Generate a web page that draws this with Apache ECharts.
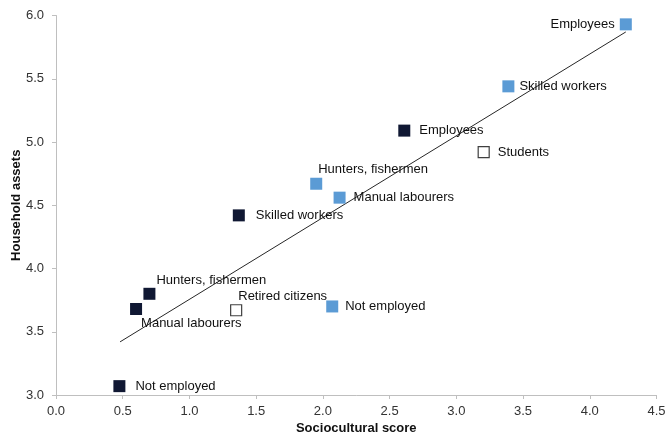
<!DOCTYPE html>
<html>
<head>
<meta charset="utf-8">
<script src="https://cdn.jsdelivr.net/npm/echarts@6/dist/echarts.min.js"></script>
<style>
  html, body { margin: 0; padding: 0; background: #fff; }
  #chart { width: 666px; height: 436px; }
</style>
</head>
<body>
<div id="chart"></div>
<script>
// dark group
var darkNames = ["Not employed", "Manual labourers", "Hunters, fishermen", "Skilled workers", "Employees"];
var darkX = [0.475, 0.60, 0.70, 1.37, 2.61];
var darkY = [3.07, 3.68, 3.80, 4.42, 5.09];

// light blue group
var blueNames = ["Hunters, fishermen", "Manual labourers", "Not employed", "Skilled workers", "Employees"];
var blueX = [1.95, 2.125, 2.07, 3.39, 4.27];
var blueY = [4.67, 4.56, 3.70, 5.44, 5.93];

// open markers
var openNames = ["Retired citizens", "Students"];
var openX = [1.35, 3.205];
var openY = [3.67, 4.92];

// fitted line ends
var trendX = [0.48, 4.27];
var trendY = [3.42, 5.87];

// label placement (right of marker, [dx, dy]) by name, per group
var darkLabelOffset = {
  "Not employed": [10, 0],
  "Manual labourers": [-1, 14],
  "Hunters, fishermen": [1, -13],
  "Skilled workers": [11, 0],
  "Employees": [9, 0]
};
var blueLabelOffset = {
  "Hunters, fishermen": [-4, -14],
  "Manual labourers": [8, 0],
  "Not employed": [7, 0],
  "Skilled workers": [5, 0],
  "Employees": null
};
var openLabelOffset = {
  "Retired citizens": [-4, -14],
  "Students": [8, 0]
};

var FONT = "Liberation Sans, Arial, sans-serif";

function buildPoints(names, xs, ys, offsets) {
  return names.map(function (n, i) {
    var off = offsets[n];
    var label = off
      ? { position: "right", distance: 0, offset: off }
      : { position: "left", distance: 5, offset: [0, 0] };
    return { name: n, value: [xs[i], ys[i]], label: label };
  });
}

var labelStyle = {
  show: true,
  formatter: "{b}",
  color: "#111111",
  fontSize: 13,
  fontFamily: FONT
};

var chart = echarts.init(document.getElementById("chart"));
var option = {
  animation: false,
  grid: { left: 56, right: 9.5, top: 15.5, bottom: 41, outerBoundsMode: "none", containLabel: false },
  xAxis: {
    type: "value",
    min: 0,
    max: 4.5,
    interval: 0.5,
    name: "Sociocultural score",
    nameLocation: "middle",
    nameGap: 27,
    nameMoveOverlap: false,
    nameTextStyle: { fontWeight: "bold", fontSize: 13, color: "#111111", fontFamily: FONT },
    axisLine: { show: true, lineStyle: { color: "#bfbfbf" } },
    axisTick: { show: true, length: 4, lineStyle: { color: "#bfbfbf" } },
    axisLabel: {
      margin: 10,
      color: "#333333",
      fontSize: 13,
      fontFamily: FONT,
      formatter: function (v) { return v.toFixed(1); }
    },
    splitLine: { show: false }
  },
  yAxis: {
    type: "value",
    min: 3,
    max: 6,
    interval: 0.5,
    name: "Household assets",
    nameLocation: "middle",
    nameGap: 33,
    nameMoveOverlap: false,
    nameRotate: 90,
    nameTextStyle: { fontWeight: "bold", fontSize: 13, color: "#111111", fontFamily: FONT },
    axisLine: { show: true, lineStyle: { color: "#bfbfbf" } },
    axisTick: { show: true, length: 4, lineStyle: { color: "#bfbfbf" } },
    axisLabel: {
      margin: 12,
      color: "#333333",
      fontSize: 13,
      fontFamily: FONT,
      formatter: function (v) { return v.toFixed(1); }
    },
    splitLine: { show: false }
  },
  series: [
    {
      type: "line",
      data: trendX.map(function (x, i) { return [x, trendY[i]]; }),
      symbol: "none",
      lineStyle: { color: "#262626", width: 1 },
      z: 1
    },
    {
      type: "scatter",
      data: buildPoints(darkNames, darkX, darkY, darkLabelOffset),
      symbol: "rect",
      symbolSize: 12,
      itemStyle: { color: "#101833", opacity: 1 },
      label: labelStyle,
      z: 3
    },
    {
      type: "scatter",
      data: buildPoints(blueNames, blueX, blueY, blueLabelOffset),
      symbol: "rect",
      symbolSize: 12,
      itemStyle: { color: "#5b9bd5", opacity: 1 },
      label: labelStyle,
      z: 3
    },
    {
      type: "scatter",
      data: buildPoints(openNames, openX, openY, openLabelOffset),
      symbol: "rect",
      symbolSize: 11,
      itemStyle: { color: "#ffffff", borderColor: "#404040", borderWidth: 1.2, opacity: 1 },
      label: labelStyle,
      z: 3
    }
  ]
};
chart.setOption(option);
</script>
</body>
</html>
